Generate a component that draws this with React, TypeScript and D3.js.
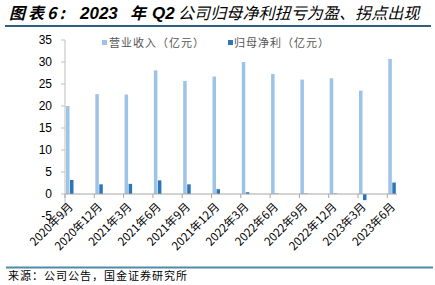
import React from "react";
import * as d3 from "d3";

const categories = ["2020年9月","2020年12月","2021年3月","2021年6月","2021年9月","2021年12月","2022年3月","2022年6月","2022年9月","2022年12月","2023年3月","2023年6月"];
const revenue = [20.0, 22.7, 22.6, 28.1, 25.7, 26.7, 30.0, 27.3, 26.0, 26.3, 23.5, 30.7];
const netProfit = [3.2, 2.2, 2.3, 3.1, 2.2, 1.1, 0.4, 0.1, 0.1, 0.1, -1.4, 2.6];
const yTicks = [-5, 0, 5, 10, 15, 20, 25, 30, 35];
const seriesNames = ["营业收入（亿元）", "归母净利（亿元）"];

const W = 435, H = 285;
const LIGHT = "#9DC3E6";
const DARK = "#2E75B6";
const FONT = "Liberation Sans, Arial, sans-serif";
const CJK = "'Noto Sans CJK SC', sans-serif";

export default function App() {
  const x0 = 65, step = 29.3;
  const y = d3.scaleLinear().domain([-5, 35]).range([216, 40]);
  const x = d3.scaleLinear().domain([0, 1]).range([x0, x0 + step]);
  const barW = 3.5;
  return (
    <svg width={W} height={H} style={{ position: "absolute", left: 0, top: 0 }}>
      <rect width={W} height={H} fill="#fff" />
      <text y={19} fontFamily={CJK} fontSize={16} fontWeight="bold" fontStyle="italic" fill="#000">
        <tspan x={9} letterSpacing={3}>图表6:</tspan>
        <tspan x={80} fontFamily={FONT} fontSize={17}>2023</tspan>
        <tspan x={130}>年</tspan>
        <tspan x={152} fontFamily={FONT} fontSize={17}>Q2</tspan>
        <tspan x={178} fontWeight="normal" letterSpacing={0.1}>公司归母净利扭亏为盈、拐点出现</tspan>
      </text>
      <line x1={5} x2={431} y1={26} y2={26} stroke="#2F5F7F" strokeWidth={2} />
      {/* y axis */}
      <line x1={x0} x2={x0} y1={y(35)} y2={y(-5)} stroke="#BFBFBF" strokeWidth={1} />
      {yTicks.map((t) => (
        <g key={t}>
          <line x1={x0 - 4} x2={x0} y1={y(t)} y2={y(t)} stroke="#BFBFBF" />
          <text x={52} y={y(t)} dy="0.35em" textAnchor="end" fontFamily={FONT} fontSize={12} fill="#000">{t}</text>
        </g>
      ))}
      {/* bars */}
      {categories.map((c, i) => {
        const gx = x(i);
        const r = revenue[i], p = netProfit[i];
        return (
          <g key={c}>
            <rect x={gx + 1} y={y(r)} width={barW} height={y(0) - y(r)} fill={LIGHT} />
            <rect x={gx + 5} y={Math.min(y(p), y(0))} width={barW} height={Math.abs(y(0) - y(p))} fill={DARK} />
          </g>
        );
      })}
      {/* x axis */}
      <line x1={x0} x2={397} y1={y(0)} y2={y(0)} stroke="#A6A6A6" strokeWidth={1} />
      {categories.map((c, i) => (
        <g key={"t" + c}>
          <line x1={x(i)} x2={x(i)} y1={y(0)} y2={y(0) + 4} stroke="#A6A6A6" />
          <text transform={`translate(${x(i) + 3},${y(0) + 8}) rotate(-45)`} textAnchor="end" dy="0.7em" fontFamily={CJK} fontSize={11.5} fill="#000">{c}</text>
        </g>
      ))}
      {/* legend */}
      <rect x={102} y={40} width={5} height={5} fill={LIGHT} />
      <text x={109} y={43} dy="0.35em" fontFamily={CJK} fontSize={11} letterSpacing={1} fill="#555">{seriesNames[0]}</text>
      <rect x={228} y={40} width={5} height={5} fill={DARK} />
      <text x={234} y={43} dy="0.35em" fontFamily={CJK} fontSize={11} letterSpacing={1} fill="#555">{seriesNames[1]}</text>
      <line x1={6} x2={433} y1={267.5} y2={267.5} stroke="#4F8BA8" strokeWidth={2} />
      <text x={8} y={280} fontFamily={CJK} fontSize={11} letterSpacing={1} fill="#000">来源：公司公告，国金证券研究所</text>
    </svg>
  );
}
